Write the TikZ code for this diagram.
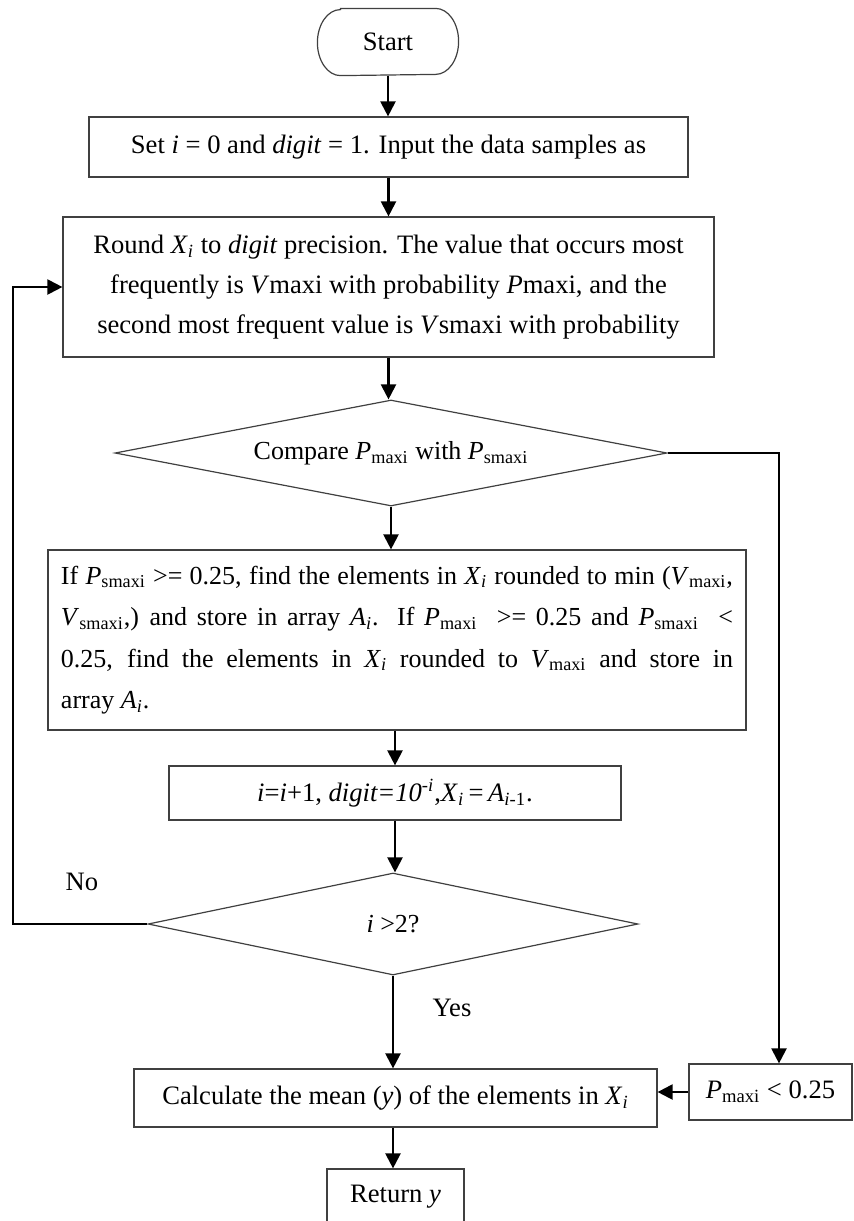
\documentclass[tikz,border=0pt]{standalone}
\usepackage{fontspec}
\setmainfont{Liberation Serif}
\usetikzlibrary{arrows.meta,shapes.geometric}
\newcommand{\sub}[2]{\textit{#1}\textsubscript{#2}}
\begin{document}
\begin{tikzpicture}[x=0.5pt,y=-0.5pt,
    box/.style={draw=black!75,line width=0.6pt,inner sep=0pt,align=center,font=\fontsize{13.3}{20}\selectfont},
    cond/.style={diamond,draw=black!75,line width=0.6pt,inner sep=0pt,aspect=5,font=\fontsize{13}{15}\selectfont},
    arr/.style={line width=1.1pt,-{Triangle[length=7.5pt,width=7.5pt]}},
    lbl/.style={font=\fontsize{13.3}{15}\selectfont}]
  \useasboundingbox (0,0) rectangle (853,1221);
  \node[box,draw=none,minimum width=70pt,minimum height=33pt] (start) at (388,42) {Start};
  \draw[black!75,line width=0.6pt] ([xshift=11.5pt]start.north west) -- ([xshift=-11.5pt]start.north east)
    arc[start angle=90,end angle=-90,x radius=11.5pt,y radius=16.5pt]
    -- ([xshift=11.5pt]start.south west)
    arc[start angle=270,end angle=90,x radius=11.5pt,y radius=16.5pt] -- cycle;
  \node[box,minimum width=299.5pt,minimum height=30pt] (box1) at (388.5,147)
    {Set \textit{i} = 0 and \textit{digit} = 1. Input the data samples as};
  \node[box,minimum width=325.5pt,minimum height=70pt] (box2) at (388.5,287)
    {Round \sub{X}{\textit{i}} to \textit{digit} precision. The value that occurs most\\
     frequently is \textit{V}maxi with probability \textit{P}maxi, and the\\
     second most frequent value is \textit{V}smaxi with probability};
  \node[cond,minimum width=276pt,minimum height=53pt] (d1) at (391,453)
    {Compare \sub{P}{maxi} with \sub{P}{smaxi}};
  \node[box,minimum width=349pt,minimum height=90pt,text width=336pt,align=justify,
    font=\fontsize{13}{20.75}\selectfont] (box3) at (397,640)
    {If \sub{P}{smaxi} >= 0.25, find the elements in \sub{X}{\textit{i}} rounded to min (\sub{V}{maxi},\linebreak
     \sub{V}{smaxi},) and store in array \sub{A}{\textit{i}}. If \sub{P}{maxi} \ >= 0.25 and \sub{P}{smaxi} \ <\linebreak
     0.25, find the elements in \sub{X}{\textit{i}} rounded to \sub{V}{maxi} and store in\linebreak
     array \sub{A}{\textit{i}}.};
  \node[box,minimum width=226pt,minimum height=27pt] (box4) at (395,793)
    {\textit{i}=\textit{i}+1, \textit{digit=10}\textsuperscript{-\textit{i}},\sub{X}{\textit{i}}\,=\,\textit{A}\textsubscript{\textit{i}-1}.};
  \node[cond,minimum width=245pt,minimum height=51pt] (d2) at (393,924) {\textit{i} >2?};
  \node[box,minimum width=261.5pt,minimum height=29pt] (box5) at (395.5,1098)
    {Calculate the mean (\textit{y}) of the elements in \sub{X}{\textit{i}}};
  \node[box,minimum width=81.5pt,minimum height=28pt] (pbox) at (770.5,1092)
    {\sub{P}{maxi} < 0.25};
  \node[box,minimum width=68.5pt,minimum height=27.5pt] (ret) at (395.5,1196.5) {Return \textit{y}};
  \node[lbl] (no) at (82,882) {No};
  \node[lbl] (yes) at (452,1008) {Yes};
  \coordinate (loop) at (13,0);
  \coordinate (side) at (779,0);
  \draw[arr] (start) -- (start |- box1.north);
  \draw[arr] (box1) -- (box2);
  \draw[arr] (box2.south) -- (box2.south |- d1.north);
  \draw[arr] (d1.south) -- (d1.south |- box3.north);
  \draw[arr] (box4.north |- box3.south) -- (box4);
  \draw[arr] (box4.south) -- (box4.south |- d2.north);
  \draw[arr] (d2.south) -- (d2.south |- box5.north);
  \draw[arr] (box5.south -| d2.south) -- (ret.north -| d2.south);
  \draw[arr] (d2.west) -- (d2.west -| loop) |- (box2.west);
  \draw[arr] (d1.east) -- (d1.east -| side) -- (side |- pbox.north);
  \draw[arr] (pbox.west) -- (pbox.west -| box5.east);
\end{tikzpicture}
\end{document}
